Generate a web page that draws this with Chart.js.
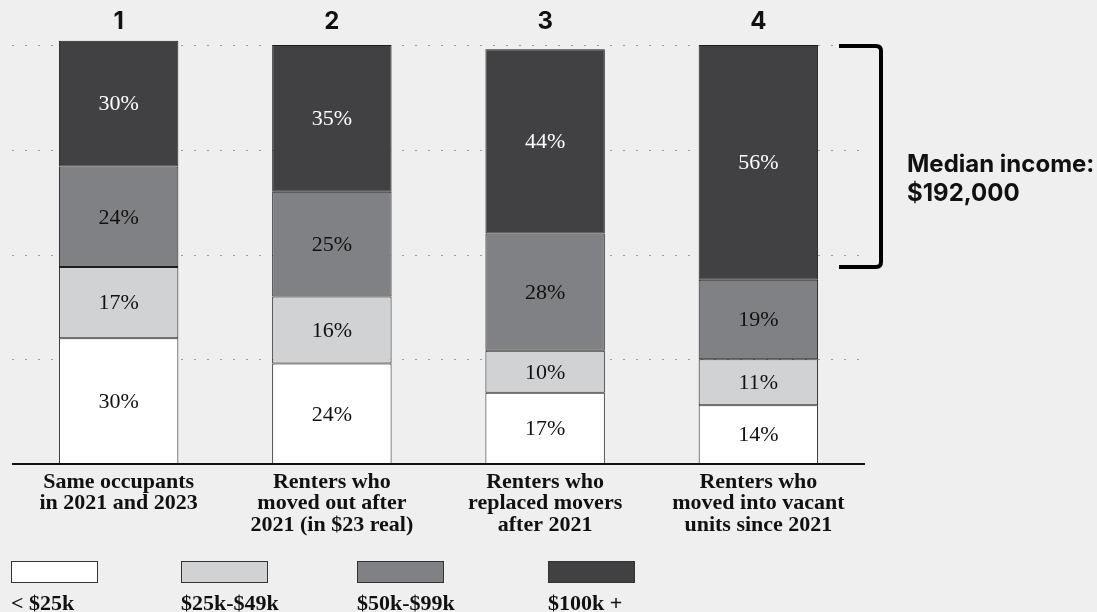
<!DOCTYPE html>
<html>
<head>
<meta charset="utf-8">
<title>Renter income by group</title>
<script src="https://cdn.jsdelivr.net/npm/chart.js@4.4.1/dist/chart.umd.min.js"></script>
<style>
  html, body { margin: 0; padding: 0; background: #efefef; }
  #wrap { width: 1097px; height: 612px; }
</style>
</head>
<body>
<div id="wrap"><canvas id="incomeChart" width="1097" height="612"></canvas></div>
<script>
// groups of renters (bottom labels) and their numbers (top labels)
const groupLabels = [
    ['Same occupants', 'in 2021 and 2023'],
    ['Renters who', 'moved out after', '2021 (in $23 real)'],
    ['Renters who', 'replaced movers', 'after 2021'],
    ['Renters who', 'moved into vacant', 'units since 2021']
];
const groupNumbers = ['1', '2', '3', '4'];

// income bands, bottom of the stack first
const incomeBands = ['< $25k', '$25k-$49k', '$50k-$99k', '$100k +'];
const under25k = [30, 24, 17, 14];
const from25to49k = [17, 16, 10, 11];
const from50to99k = [24, 25, 28, 19];
const over100k = [30, 35, 44, 56];

const gridValues = [25, 50, 75, 100];
const medianNote = ['Median income:', '$192,000'];

const bandColors = ['#ffffff', '#d1d2d4', '#808185', '#414143'];
const bandText = ['#111111', '#111111', '#111111', '#ffffff'];

const serif = '"Liberation Serif", "Times New Roman", serif';
const sans = 'Inter, "Noto Sans", sans-serif';

const decorations = {
    id: 'decorations',
    beforeDatasetsDraw(chart) {
        const { ctx, chartArea, scales } = chart;
        // dotted horizontal guides
        ctx.save();
        ctx.strokeStyle = '#9c9c9c';
        ctx.lineWidth = 1;
        ctx.setLineDash([2, 11]);
        gridValues.forEach(v => {
            const y = Math.round(scales.y.getPixelForValue(v)) + 0.5;
            ctx.beginPath();
            ctx.moveTo(chartArea.left, y);
            ctx.lineTo(chartArea.right - 5, y);
            ctx.stroke();
        });
        ctx.restore();
    },
    afterDatasetsDraw(chart) {
        const { ctx, chartArea, scales } = chart;
        ctx.save();

        // baseline
        const y0 = scales.y.getPixelForValue(0);
        ctx.strokeStyle = '#111';
        ctx.lineWidth = 2;
        ctx.beginPath();
        ctx.moveTo(chartArea.left, y0);
        ctx.lineTo(chartArea.right, y0);
        ctx.stroke();

        // percentage labels inside each segment
        ctx.font = '22px ' + serif;
        ctx.textAlign = 'center';
        ctx.textBaseline = 'middle';
        chart.data.datasets.forEach((ds, di) => {
            const meta = chart.getDatasetMeta(di);
            meta.data.forEach((bar, i) => {
                ctx.fillStyle = bandText[di];
                ctx.fillText(ds.data[i] + '%', bar.x, (bar.y + bar.base) / 2 + 1);
            });
        });

        // group numbers above, descriptions below
        groupNumbers.forEach((n, i) => {
            const x = scales.x.getPixelForValue(i);
            ctx.fillStyle = '#111';
            ctx.font = 'bold 24px ' + sans;
            ctx.fillText(n, x, 22);
            ctx.font = 'bold 22px ' + serif;
            groupLabels[i].forEach((line, li) => {
                ctx.fillText(line, x, y0 + 18 + li * 21.5);
            });
        });

        // bracket around the top band of the last bar
        const top = scales.y.getPixelForValue(100) + 1;
        const bottom = scales.y.getPixelForValue(47);
        const bx = chartArea.right + 16;
        const left = chartArea.right - 26;
        const r = 5;
        ctx.strokeStyle = '#000';
        ctx.lineWidth = 4;
        ctx.beginPath();
        ctx.moveTo(left, top);
        ctx.lineTo(bx - r, top);
        ctx.quadraticCurveTo(bx, top, bx, top + r);
        ctx.lineTo(bx, bottom - r);
        ctx.quadraticCurveTo(bx, bottom, bx - r, bottom);
        ctx.lineTo(left, bottom);
        ctx.stroke();

        ctx.fillStyle = '#111';
        ctx.font = 'bold 24px ' + sans;
        ctx.textAlign = 'left';
        ctx.textBaseline = 'alphabetic';
        medianNote.forEach((line, li) => {
            ctx.fillText(line, 907, 172 + li * 29);
        });

        // legend: swatch with label underneath
        const legendX = [11, 181, 357, 548];
        ctx.lineWidth = 1;
        ctx.textBaseline = 'middle';
        incomeBands.forEach((band, i) => {
            ctx.fillStyle = bandColors[i];
            ctx.fillRect(legendX[i] + 0.5, 561.5, 86, 21);
            ctx.strokeStyle = '#333';
            ctx.strokeRect(legendX[i] + 0.5, 561.5, 86, 21);
            ctx.fillStyle = '#111';
            ctx.font = 'bold 22px ' + serif;
            ctx.fillText(band, legendX[i], 604);
        });
        ctx.restore();
    }
};

const series = [under25k, from25to49k, from50to99k, over100k];

new Chart(document.getElementById('incomeChart'), {
    type: 'bar',
    data: {
        labels: groupNumbers,
        datasets: series.map((values, i) => ({
            label: incomeBands[i],
            data: values,
            backgroundColor: bandColors[i],
            borderColor: '#1e1e1e',
            borderWidth: 1,
            borderSkipped: false,
            barPercentage: 0.56,
            categoryPercentage: 1,
            clip: false
        }))
    },
    options: {
        responsive: false,
        animation: false,
        layout: { padding: { left: 12, right: 232, top: 45, bottom: 148 } },
        plugins: {
            legend: { display: false },
            tooltip: { enabled: false }
        },
        scales: {
            x: { stacked: true, display: false },
            y: { stacked: true, display: false, min: 0, max: 100 }
        }
    },
    plugins: [decorations]
});
</script>
</body>
</html>
